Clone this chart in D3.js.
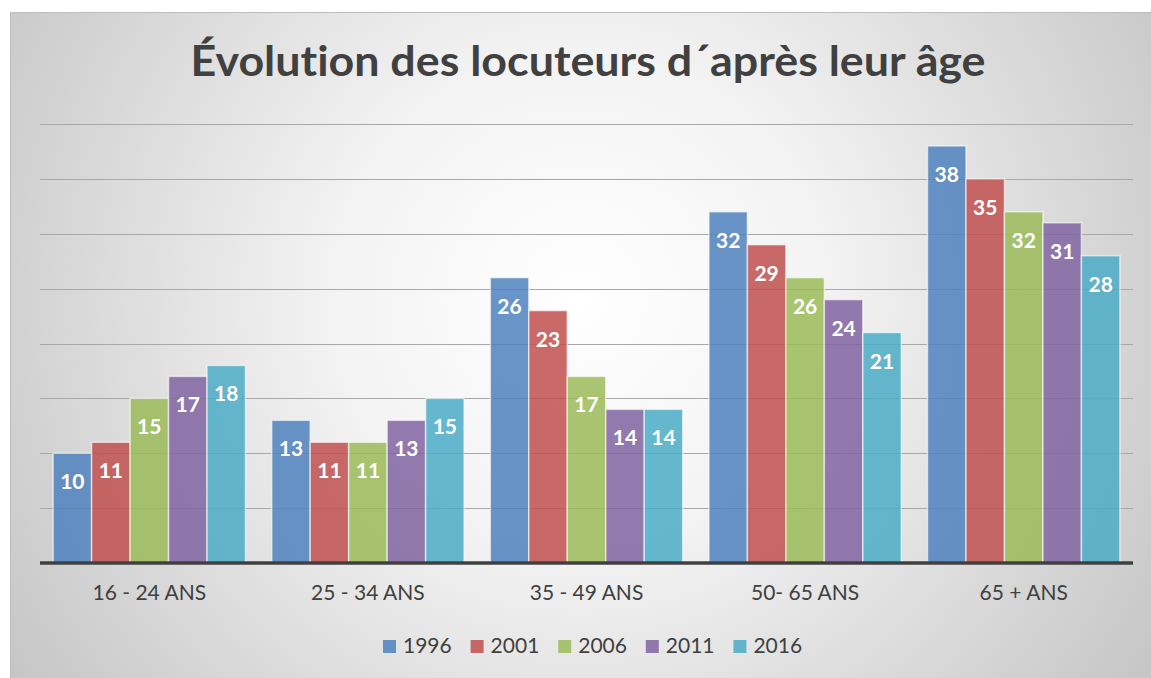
<!DOCTYPE html>
<html>
<head>
<meta charset="utf-8">
<script src="https://cdn.jsdelivr.net/npm/d3@7"></script>
<style>
  body { margin: 0; background: #fff; }
  svg { display: block; }
  text { font-variant-ligatures: none; }
</style>
</head>
<body>
<svg id="chart"></svg>
<script>
const categories = ["16 - 24 ANS", "25 - 34 ANS", "35 - 49 ANS", "50- 65 ANS", "65 + ANS"];
const years = ["1996", "2001", "2006", "2011", "2016"];
const v1996 = [10, 13, 26, 32, 38];
const v2001 = [11, 11, 23, 29, 35];
const v2006 = [15, 11, 17, 26, 32];
const v2011 = [17, 13, 14, 24, 31];
const v2016 = [18, 15, 14, 21, 28];
const yTicks = [0, 5, 10, 15, 20, 25, 30, 35, 40];

const series = [v1996, v2001, v2006, v2011, v2016];
const colors = ["#4f81bd", "#c0504d", "#9bbb59", "#8064a2", "#4bacc6"];

const width = 1151, height = 678;
const margin = {left: 40, right: 18, top: 124, bottom: 115};
const font = "Lato, 'Open Sans', sans-serif";

const svg = d3.select("#chart").attr("width", width).attr("height", height);

const defs = svg.append("defs");
const grad = defs.append("radialGradient")
  .attr("id", "bg")
  .attr("gradientUnits", "userSpaceOnUse")
  .attr("cx", 580).attr("cy", 300).attr("r", 700);
grad.append("stop").attr("offset", "0%").attr("stop-color", "#ffffff");
grad.append("stop").attr("offset", "35%").attr("stop-color", "#f3f3f3");
grad.append("stop").attr("offset", "100%").attr("stop-color", "#c4c4c4");

svg.append("rect")
  .attr("x", 10.5).attr("y", 12.5)
  .attr("width", width - 10).attr("height", height - 12)
  .attr("fill", "url(#bg)")
  .attr("stroke", "#bdbdbd");

const x0 = d3.scaleBand()
  .domain(categories)
  .range([margin.left, width - margin.right])
  .paddingInner(0.12).paddingOuter(0.06);

const x1 = d3.scaleBand()
  .domain(years)
  .range([0, x0.bandwidth()]);

const y = d3.scaleLinear()
  .domain([0, 40])
  .range([height - margin.bottom, margin.top]);

// gridlines
svg.append("g")
  .selectAll("line")
  .data(yTicks.slice(1))
  .join("line")
  .attr("x1", margin.left).attr("x2", width - margin.right)
  .attr("y1", d => Math.round(y(d)) + 0.5).attr("y2", d => Math.round(y(d)) + 0.5)
  .attr("stroke", "#a8a8a8").attr("stroke-width", 1);

// bars
const groups = svg.append("g")
  .selectAll("g")
  .data(categories)
  .join("g")
  .attr("transform", d => `translate(${x0(d)},0)`);

const cells = groups.selectAll("g")
  .data((c, ci) => years.map((yr, si) => ({year: yr, si, value: series[si][ci]})))
  .join("g");

cells.append("rect")
  .attr("x", d => x1(d.year))
  .attr("y", d => y(d.value))
  .attr("width", x1.bandwidth())
  .attr("height", d => y(0) - y(d.value))
  .attr("fill", d => colors[d.si])
  .attr("fill-opacity", 0.85)
  .attr("stroke", "#ffffff")
  .attr("stroke-opacity", 0.6)
  .attr("stroke-width", 1.5);

cells.append("text")
  .attr("x", d => x1(d.year) + x1.bandwidth() / 2)
  .attr("y", d => y(d.value) + 36)
  .attr("text-anchor", "middle")
  .attr("font-family", font)
  .attr("font-weight", "bold")
  .attr("font-size", 21)
  .attr("fill", "#ffffff")
  .text(d => d.value);

// baseline axis
const xAxis = svg.append("g")
  .attr("transform", `translate(0,${y(0)})`)
  .call(d3.axisBottom(x0).tickSize(0).tickPadding(22));
xAxis.select(".domain").attr("stroke", "#404040").attr("stroke-width", 3.5)
  .attr("d", `M${margin.left},0H${width - margin.right}`);
xAxis.selectAll("text")
  .attr("font-family", font)
  .attr("font-size", 21)
  .attr("fill", "#404040");

// title
svg.append("text")
  .attr("x", 588).attr("y", 76)
  .attr("text-anchor", "middle")
  .attr("font-family", font)
  .attr("font-weight", "bold")
  .attr("font-size", 42)
  .attr("textLength", 795)
  .attr("lengthAdjust", "spacingAndGlyphs")
  .attr("fill", "#404040")
  .text("Évolution des locuteurs d´après leur âge");

// legend
const legendX = d3.scaleBand().domain(years).range([383, 821]);
const leg = svg.append("g").selectAll("g")
  .data(years)
  .join("g")
  .attr("transform", d => `translate(${legendX(d)},646)`);
leg.append("rect")
  .attr("x", 0).attr("y", -6)
  .attr("width", 13).attr("height", 13)
  .attr("fill", (d, i) => colors[i])
  .attr("fill-opacity", 0.85);
leg.append("text")
  .attr("x", 20).attr("y", 7)
  .attr("font-family", font)
  .attr("font-size", 21)
  .attr("fill", "#404040")
  .text(d => d);
</script>
</body>
</html>
